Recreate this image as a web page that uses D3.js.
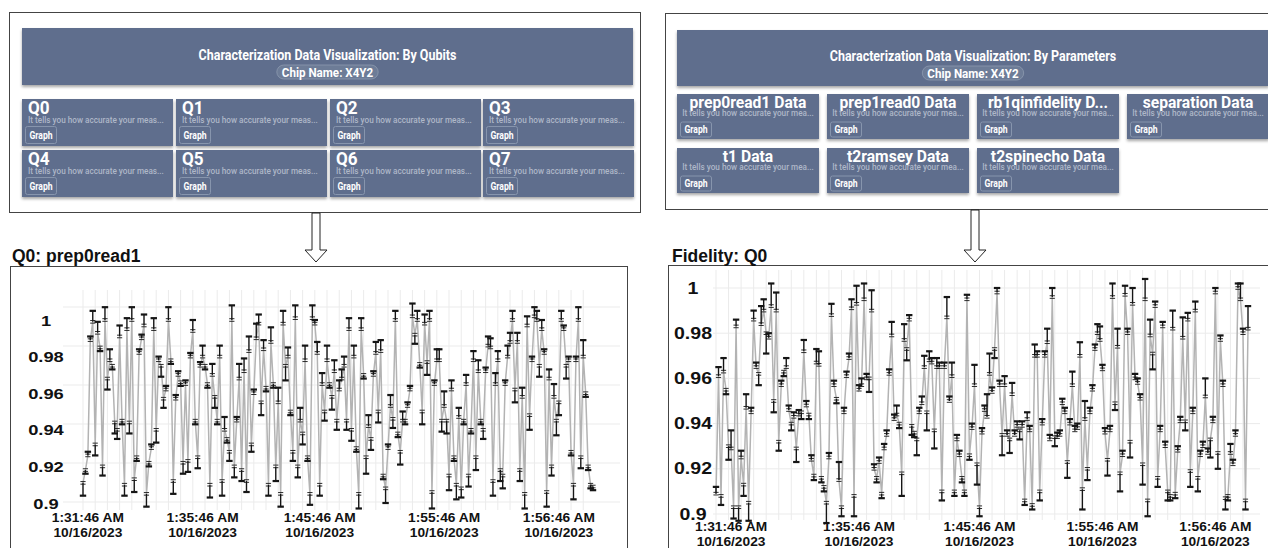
<!DOCTYPE html>
<html lang="en">
<head>
<meta charset="UTF-8" />
<title>Characterization Data Visualization</title>
<script src="https://d3js.org/d3.v7.min.js"></script>
<style>
  body { margin: 0; background: #fff; }
  svg { display: block; }
</style>
</head>
<body>
<svg id="fig" width="1268" height="548"></svg>
<script>
// ---- data ----
const chipName = "X4Y2";
const qubitCards = ["Q0", "Q1", "Q2", "Q3", "Q4", "Q5", "Q6", "Q7"];
const paramCards = ["prep0read1 Data", "prep1read0 Data", "rb1qinfidelity D...", "separation Data",
  "t1 Data", "t2ramsey Data", "t2spinecho Data"];
const qubitDesc = "It tells you how accurate your meas...";
const paramDesc = "It tells you how accurate your mea...";
const timeLabels = ["1:31:46 AM", "1:35:46 AM", "1:45:46 AM", "1:55:46 AM", "1:56:46 AM"];
const dateLabel = "10/16/2023";
const yTicks = [0.9, 0.92, 0.94, 0.96, 0.98, 1];
const prepTickIdx = [2, 49, 97, 148, 195];
const fidTickIdx = [6, 57, 105, 154, 199];

// Q0 prep0read1 values and whisker offsets (thousandths, + up / - down)
const prep0read1 = [
  0.911, 0.918, 0.926, 0.989, 0.999, 0.932, 0.993, 0.985, 0.920, 1.000,
  0.968, 0.978, 0.975, 0.944, 0.940, 0.991, 0.945, 0.910, 0.995, 0.944,
  1.000, 0.913, 0.925, 0.982, 0.990, 0.997, 0.905, 0.922, 0.930, 0.995,
  0.940, 0.978, 0.975, 0.957, 0.962, 1.000, 0.978, 0.912, 0.957, 0.970,
  0.966, 0.922, 0.965, 0.923, 0.980, 0.994, 0.945, 0.925, 0.975, 0.980,
  0.975, 0.965, 0.910,
  0.970, 0.958, 0.945, 0.980, 0.912, 0.940, 0.935, 0.928, 1.000, 0.920,
  0.945, 0.968, 0.918, 0.972, 0.912, 0.983, 0.932, 0.960, 0.990, 0.998,
  0.955, 0.984, 0.963, 0.910, 0.988, 0.965, 0.920, 0.955, 0.905, 0.998,
  0.975, 0.980, 0.950, 0.928, 1.001, 0.920, 0.945, 0.938, 0.978, 0.925,
  0.905, 1.001, 0.998, 0.982, 0.910, 0.965, 0.950, 0.978, 0.965, 0.958,
  0.972, 0.945,
  0.962, 0.968, 0.975, 0.945, 0.995, 0.940, 0.980, 0.930, 0.905, 0.995,
  0.970, 0.925, 0.942, 0.935, 0.970, 0.982, 0.950, 0.983, 0.915, 0.908,
  0.930, 0.953, 0.946, 1.000, 0.938, 0.928, 0.945, 0.945, 0.953, 0.962,
  1.002, 0.992, 1.000, 0.976, 0.950, 0.998, 0.977, 1.000, 0.906, 0.965,
  0.978, 0.978, 0.945, 0.953, 0.945, 0.915, 0.962, 0.925, 0.910, 0.947,
  0.908, 0.945, 0.965,
  0.915, 0.940, 0.978, 0.925, 0.972, 0.945, 0.940, 0.972, 0.986, 0.985,
  0.912, 0.965, 0.978, 0.918, 0.915, 0.965, 0.980, 0.988, 1.000, 0.962,
  0.988, 0.918, 0.958, 0.905, 0.997, 0.948, 0.978, 1.002, 1.000, 0.975,
  0.995, 0.982, 0.906, 0.968, 0.920, 0.958, 0.945, 0.955, 1.000, 0.995,
  0.975, 0.978, 0.928, 0.910, 0.978, 1.000, 0.925, 0.980, 0.960, 0.920,
  0.910, 0.909
];
const prep0read1Err = [
  -7, -2, 2, 2, 6, -6, 6, -2, -5, 7, -6, 6, -2, -6, -5, 6, -2, -6, 6, -6,
  7, -7, -2, 2, 2, 6, -7, -2, 2, 6, -7, 2, -6, -5, 2, 7, -2, -7, 2, 2,
  -2, -6, 2, -6, 2, 6, -2, -6, 2, 6, -2, -2, -7,
  6, -6, -2, 6, -8, 7, -2, -5, 8, -6, 2, 8, -6, 7, -6, 8, -4, 2, 8, 5,
  -7, 5, -2, -6, 8, -2, -8, 8, -7, 7, -8, 5, -2, -5, 7, -6, 7, -6, 8, -2,
  -6, 7, 2, 6, -6, 6, -5, 8, -2, -7, 6, -5,
  5, 5, 5, -5, 6, -6, 6, -2, -8, 6, -2, -9, 6, -6, 2, 6, -6, 6, -2, -8,
  2, 6, -5, 5, -2, -7, 5, -2, 2, 2, 7, -5, 5, -2, -7, 5, -7, 5, -9, 2,
  6, 6, -6, 8, -7, -8, 5, -2, -8, 5, -5, -2, 5,
  -6, -2, 5, -7, 6, -2, -5, 2, 5, 5, -8, 6, 5, -6, -7, 2, 6, 5, 5, -7,
  5, -6, 5, -8, 5, -8, 2, 5, 5, -6, 5, 2, -8, 5, -5, 7, -8, -7, 5, 2,
  -7, 2, -2, -8, 2, 7, -6, 9, -2, -2, -2, -2
];

// Fidelity Q0 values and whisker offsets (thousandths)
const fidelity = [
  0.909, 0.961, 0.908, 0.963, 0.955, 0.930, 0.929, 0.903, 0.983, 0.903,
  0.925, 0.913, 0.947, 0.905, 0.945, 0.986, 0.965, 0.962, 0.984, 0.990,
  0.980, 0.978, 0.992, 0.950, 0.990, 0.932, 0.957, 0.963, 0.965, 0.946,
  0.940, 0.943, 0.929, 0.944, 0.945, 0.972, 0.948, 0.944, 0.924, 0.917,
  0.967, 0.966, 0.916, 0.912, 0.905, 0.925, 0.988, 0.957, 0.951, 0.915,
  0.903, 0.945, 0.961, 0.969, 0.991, 0.908, 0.993, 0.955, 0.957, 0.995,
  0.960, 0.960, 0.990, 0.920, 0.916, 0.923, 0.909, 0.929, 0.935, 0.962,
  0.979, 0.942, 0.944, 0.940, 0.918, 0.977, 0.973, 0.986, 0.939, 0.936,
  0.933, 0.945, 0.949, 0.965, 0.945, 0.968, 0.967, 0.937, 0.965, 0.965,
  0.910, 0.965, 0.987, 0.950, 0.961, 0.910, 0.933, 0.926, 0.916, 0.910,
  0.995, 0.926, 0.938, 0.957, 0.922, 0.903, 0.936, 0.946, 0.943, 0.962,
  0.954, 0.973, 0.998, 0.957, 0.935, 0.957, 0.935, 0.933, 0.953, 0.935,
  0.939, 0.937, 0.939, 0.906, 0.942, 0.937, 0.904, 0.970, 0.970, 0.910,
  0.940, 0.970, 0.976, 0.933, 0.996, 0.934, 0.934, 0.935, 0.949, 0.945,
  0.923, 0.940, 0.957, 0.937, 0.938, 0.970, 0.911, 0.942, 0.920, 0.945,
  0.955, 0.973, 0.980, 0.977, 0.964, 0.936, 0.924, 0.937, 0.996, 0.949,
  0.974, 0.918, 0.926, 0.997, 0.980, 0.932, 0.993, 0.960, 0.958, 0.951,
  0.922, 0.995, 0.906, 0.979, 0.971, 0.992, 0.916, 0.937, 0.983, 0.930,
  0.910, 0.908, 0.982, 0.909, 0.928, 0.941, 0.978, 0.941, 0.986, 0.919,
  0.945, 0.990, 0.916, 0.926, 0.930, 0.952, 0.927, 0.933, 0.941, 0.998,
  0.927, 0.977, 0.957, 0.907, 0.908, 0.927, 0.922, 0.935, 1.000, 0.995,
  0.980, 0.906, 0.982
];
const fidelityErr = [
  3, 4, -4, 6, -2, -6, 8, -5, 3, -6, 3, -5, 6, -8, 2, 4, 2, -5, 8, 5,
  -9, 2, 10, -5, 8, -4, 2, -2, 4, 2, -3, 2, -6, 2, -3, 5, 2, -2, 2, -2,
  6, 6, -2, -2, -9, 2, 5, 2, -2, 8, -4, 2, 2, 2, 4, -9, 8, 2, 3, 7,
  2, -6, 9, 2, -2, 2, -2, 2, 2, 2, 6, 2, 4, -2, -10, 7, -5, 2, -4, -2,
  -7, 2, 3, 5, -8, 4, 2, -8, 4, 2, -4, 2, 9, 2, 6, -2, 2, 2, -2, -2,
  2, -2, 2, 9, -9, -4, 2, 2, 10, 9, 2, -4, 2, 2, -9, 4, 2, -6, 5, 2,
  2, -4, 2, -2, 3, 2, -2, 5, 2, -4, 2, 2, 6, 2, 4, -4, 2, 2, 2, 2,
  -7, 2, 6, 2, 2, 6, -9, 8, -5, 2, 2, 2, 4, 6, 2, 2, -7, 2, 6, -3,
  8, -8, 2, 4, 2, -7, 7, 2, 2, 2, -9, 9, -7, 7, -7, 2, -4, 2, 2, 2,
  -4, -2, 8, -2, 2, 2, 9, -4, 3, -7, 2, 4, -6, 2, 2, 8, 2, -8, 2, 2,
  -7, 2, 2, -5, -2, 4, 2, 2, 2, 7, 2, -4, 10
];

// ---- drawing ----
const fig = d3.select("#fig");
const cardFill = "#5e6e8d";
const uiFont = "Roboto, 'Open Sans', sans-serif";
const plotFont = "'Liberation Sans', Arial, sans-serif";

const defs = fig.append("defs");
const shadow = defs.append("filter").attr("id", "shadow")
  .attr("x", "-10%").attr("y", "-20%").attr("width", "120%").attr("height", "150%");
shadow.append("feDropShadow").attr("dx", 0).attr("dy", 2).attr("stdDeviation", 1.6)
  .attr("flood-color", "#000").attr("flood-opacity", 0.35);

// squeeze or stretch a text to look like the condensed / wide fonts in the screenshot
function fitText(sel, factor) {
  sel.each(function () {
    const w = this.getComputedTextLength();
    d3.select(this).attr("textLength", w * factor).attr("lengthAdjust", "spacingAndGlyphs");
  });
  return sel;
}

function drawPanel(p) {
  const g = fig.append("g");
  g.append("rect")
    .attr("x", p.box[0]).attr("y", p.box[1]).attr("width", p.box[2]).attr("height", p.box[3])
    .attr("fill", "#fff").attr("stroke", "#444").attr("stroke-width", 1);

  g.append("rect")
    .attr("x", p.header[0]).attr("y", p.header[1]).attr("width", p.header[2]).attr("height", p.header[3])
    .attr("fill", cardFill).attr("filter", "url(#shadow)");

  const cx = p.header[0] + p.header[2] / 2;
  g.append("text").attr("x", cx).attr("y", p.titleY)
    .attr("text-anchor", "middle").attr("fill", "#fff")
    .style("font", `700 14.5px ${uiFont}`)
    .text(p.title)
    .call(fitText, 0.86);

  const chipG = g.append("g");
  const chip = chipG.append("text").attr("x", cx).attr("y", p.chipY + 4.6)
    .attr("text-anchor", "middle").attr("fill", "#fff")
    .style("font", `700 13.5px ${uiFont}`)
    .text(`Chip Name: ${chipName}`)
    .call(fitText, 0.86);
  const cw = +chip.attr("textLength");
  chipG.insert("rect", "text")
    .attr("x", cx - cw / 2 - 5).attr("y", p.chipY - 7).attr("width", cw + 10).attr("height", 14)
    .attr("rx", 7).attr("fill", "#6d7c97").attr("stroke", "#8d9ab0").attr("stroke-width", 0.8);

  p.labels.forEach((lab, k) => {
    const col = k % 4, row = Math.floor(k / 4);
    const x0 = p.cardX[col], y0 = p.cardY[row];
    const card = g.append("g").attr("transform", `translate(${x0},${y0})`);
    card.append("rect").attr("width", p.cardW).attr("height", p.cardH)
      .attr("fill", cardFill).attr("filter", "url(#shadow)");
    card.append("text")
      .attr("x", p.centerTitle ? p.cardW / 2 : 6).attr("y", p.titleDy)
      .attr("text-anchor", p.centerTitle ? "middle" : "start")
      .attr("fill", "#fff")
      .style("font", `700 ${p.titleSize}px ${uiFont}`)
      .text(lab)
      .call(fitText, p.titleFit);
    card.append("text").attr("x", p.centerTitle ? p.cardW / 2 : 6).attr("y", p.descDy)
      .attr("text-anchor", p.centerTitle ? "middle" : "start")
      .attr("fill", "#aeb7c8")
      .style("font", `500 9.3px ${uiFont}`)
      .text(p.desc)
      .call(fitText, 0.88);
    card.append("rect").attr("x", 3.5).attr("y", p.btnDy + 0.5).attr("width", 31).attr("height", p.btnH)
      .attr("rx", 2).attr("fill", "none").attr("stroke", "#8795ad").attr("stroke-width", 1);
    card.append("text").attr("x", 19).attr("y", p.btnDy + p.btnH / 2 + 4)
      .attr("text-anchor", "middle").attr("fill", "#fff")
      .style("font", `700 10px ${uiFont}`)
      .text("Graph")
      .call(fitText, 0.86);
  });
}

function drawArrow(cx, top) {
  const pts = [[cx - 4, top], [cx + 4, top], [cx + 4, 250], [cx + 11, 250], [cx, 262],
    [cx - 11, 250], [cx - 4, 250]];
  fig.append("path").attr("d", d3.line()(pts) + "Z")
    .attr("fill", "#fff").attr("stroke", "#222").attr("stroke-width", 1);
}

function drawChart(c) {
  const g = fig.append("g");
  g.append("rect").attr("x", c.frame[0]).attr("y", c.frame[1])
    .attr("width", c.frame[2]).attr("height", c.frame[3])
    .attr("fill", "#fff").attr("stroke", "#444").attr("stroke-width", 1);
  g.append("text").attr("x", c.titleX).attr("y", 262)
    .attr("fill", "#111").style("font", `700 17.5px ${plotFont}`).text(c.title);

  const n = c.values.length;
  const x = d3.scalePoint().domain(d3.range(n)).range(c.xRange);
  const y = d3.scaleLinear().domain([0.9, 1]).range(c.yRange);
  const gy = d3.scaleLinear().domain([0, 5]).range(c.hGrid);

  g.append("g").selectAll("line").data(d3.range(0, n, 5)).join("line")
    .attr("x1", d => x(d)).attr("x2", d => x(d))
    .attr("y1", c.vGrid[0]).attr("y2", c.vGrid[1])
    .attr("stroke", "#ebebeb").attr("stroke-width", 1);
  g.append("g").selectAll("line").data(d3.range(6)).join("line")
    .attr("x1", c.gridX[0]).attr("x2", c.gridX[1])
    .attr("y1", d => gy(d)).attr("y2", d => gy(d))
    .attr("stroke", "#ebebeb").attr("stroke-width", 1);

  g.append("path").datum(c.values)
    .attr("d", d3.line().x((d, i) => x(i)).y(d => y(d)))
    .attr("fill", "none").attr("stroke", "#b3b3b3").attr("stroke-width", 1.5);

  const bars = g.append("g").selectAll("g")
    .data(c.values.map((v, i) => ({ i, v, w: c.errs[i] / 1000 })))
    .join("g").attr("stroke", "#151515");
  bars.append("line")
    .attr("x1", d => x(d.i)).attr("x2", d => x(d.i))
    .attr("y1", d => y(d.v)).attr("y2", d => y(d.v + d.w))
    .attr("stroke-width", 1.4);
  bars.append("line")
    .attr("x1", d => x(d.i) - 3.2).attr("x2", d => x(d.i) + 3.2)
    .attr("y1", d => y(d.v + d.w)).attr("y2", d => y(d.v + d.w))
    .attr("stroke-width", 2.2);
  [-1.3, 1.3].forEach(off => {
    bars.append("line")
      .attr("x1", d => x(d.i) - 2.6).attr("x2", d => x(d.i) + 2.6)
      .attr("y1", d => y(d.v) + off).attr("y2", d => y(d.v) + off)
      .attr("stroke-width", 0.9);
  });

  g.append("g").selectAll("text").data(yTicks).join("text")
    .attr("x", c.yLabelX).attr("y", d => y(d) + 5.5)
    .attr("text-anchor", "middle").attr("fill", "#111")
    .style("font", `700 ${c.yFont}px ${plotFont}`)
    .text(d => String(d))
    .call(fitText, 1.22);

  const xl = g.append("g").selectAll("g").data(c.tickIdx).join("g");
  xl.append("text").attr("x", d => x(d)).attr("y", c.xLabelY[0])
    .attr("text-anchor", "middle").attr("fill", "#111")
    .style("font", `700 12.5px ${plotFont}`)
    .text((d, k) => timeLabels[k])
    .call(fitText, 1.1);
  xl.append("text").attr("x", d => x(d)).attr("y", c.xLabelY[1])
    .attr("text-anchor", "middle").attr("fill", "#111")
    .style("font", `700 12.5px ${plotFont}`)
    .text(dateLabel)
    .call(fitText, 1.1);
}

drawPanel({
  box: [9.5, 12.5, 631, 200], header: [22, 28, 611, 57],
  title: "Characterization Data Visualization: By Qubits", titleY: 60, chipY: 72,
  labels: qubitCards, desc: qubitDesc, centerTitle: false,
  cardX: [22, 176, 330, 483], cardY: [99, 150], cardW: 151, cardH: 47,
  titleSize: 18, titleFit: 0.95, titleDy: 14.5, descDy: 23.5, btnDy: 27, btnH: 17
});
drawPanel({
  box: [665.5, 13.5, 640, 196], header: [677, 30, 592, 56],
  title: "Characterization Data Visualization: By Parameters", titleY: 61, chipY: 73,
  labels: paramCards, desc: paramDesc, centerTitle: true,
  cardX: [677, 827, 977, 1127], cardY: [94, 148], cardW: 142, cardH: 45,
  titleSize: 17, titleFit: 0.92, titleDy: 13.5, descDy: 21.5, btnDy: 27.5, btnH: 15
});

drawArrow(316, 213);
drawArrow(975, 210);

drawChart({
  title: "Q0: prep0read1", titleX: 12, frame: [10.5, 266.5, 617, 290],
  values: prep0read1, errs: prep0read1Err, tickIdx: prepTickIdx,
  xRange: [83, 593], yRange: [503, 320],
  hGrid: [502, 307], gridX: [63, 620], vGrid: [290, 510],
  yLabelX: 46, yFont: 15, xLabelY: [522, 537]
});
drawChart({
  title: "Fidelity: Q0", titleX: 672, frame: [668.5, 265.5, 640, 290],
  values: fidelity, errs: fidelityErr, tickIdx: fidTickIdx,
  xRange: [716, 1248], yRange: [514, 288],
  hGrid: [514, 288], gridX: [713, 1260], vGrid: [270, 520],
  yLabelX: 693, yFont: 16, xLabelY: [531, 545.5]
});
</script>
</body>
</html>
